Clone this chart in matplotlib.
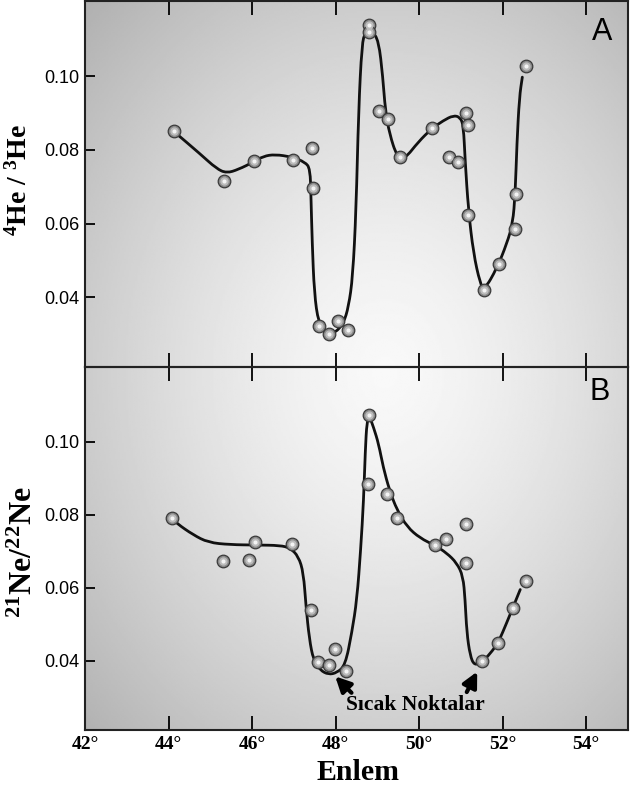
import matplotlib
matplotlib.use("Agg")
import matplotlib.pyplot as plt
import numpy as np
from matplotlib.path import Path
from matplotlib.patches import PathPatch

plt.rcParams["mathtext.fontset"] = "custom"
plt.rcParams["mathtext.rm"] = "Liberation Serif:bold"
plt.rcParams["mathtext.it"] = "Liberation Serif:bold"
plt.rcParams["mathtext.bf"] = "Liberation Serif:bold"

SERIF = "Liberation Serif"
SANS = "Liberation Sans"

# panel A: 4He/3He measurements
he_lat = [44.12, 45.33, 46.04, 46.97, 47.44, 47.47, 47.61, 47.85, 48.05, 48.29,
          48.80, 48.79, 49.05, 49.26, 49.53, 50.30, 50.72, 50.93, 51.13, 51.17,
          51.17, 51.56, 51.91, 52.30, 52.31, 52.56]
he_ratio = [0.0851, 0.0715, 0.0769, 0.0772, 0.0805, 0.0697, 0.0321, 0.0300, 0.0334, 0.0310,
            0.1141, 0.1120, 0.0906, 0.0883, 0.0781, 0.0860, 0.0781, 0.0767, 0.0900, 0.0869,
            0.0623, 0.0419, 0.0489, 0.0585, 0.0679, 0.1027]

# panel A: hand-drawn trend line
he_curve_lat = [44.12, 44.75, 45.15, 45.39, 45.67, 46.03, 46.27, 46.55, 46.95, 47.27,
                47.39, 47.41, 47.44, 47.49, 47.59, 47.79, 47.99, 48.19, 48.31, 48.41,
                48.49, 48.55, 48.63, 48.71, 48.87, 49.03, 49.13, 49.19, 49.29, 49.47,
                49.66, 49.98, 50.30, 50.58, 50.82, 50.98, 51.06, 51.10, 51.18, 51.30,
                51.46, 51.56, 51.86, 52.10, 52.24, 52.30, 52.34, 52.40, 52.47]
he_curve = [0.0851, 0.0790, 0.0749, 0.0737, 0.0747, 0.0767, 0.0783, 0.0788, 0.0781, 0.0767,
            0.0749, 0.0672, 0.0546, 0.0410, 0.0329, 0.0297, 0.0303, 0.0329, 0.0374, 0.0455,
            0.0636, 0.0908, 0.1089, 0.1120, 0.1123, 0.1098, 0.0998, 0.0908, 0.0844, 0.0781,
            0.0776, 0.0822, 0.0858, 0.0880, 0.0894, 0.0889, 0.0867, 0.0772, 0.0636, 0.0519,
            0.0437, 0.0419, 0.0478, 0.0546, 0.0600, 0.0681, 0.0817, 0.0944, 0.0998]

# panel B: 21Ne/22Ne measurements
ne_lat = [44.08, 45.31, 45.93, 46.06, 46.95, 47.42, 47.57, 47.83, 47.99, 48.25,
          48.81, 48.77, 49.23, 49.47, 50.37, 50.64, 51.13, 51.13, 51.51, 51.89,
          52.25, 52.56]
ne_ratio = [0.0791, 0.0674, 0.0676, 0.0725, 0.0719, 0.0540, 0.0397, 0.0387, 0.0433, 0.0372,
            0.1073, 0.0883, 0.0856, 0.0790, 0.0716, 0.0733, 0.0775, 0.0667, 0.0400, 0.0448,
            0.0544, 0.0618]

# panel B: trend line
ne_curve_lat = [44.08, 44.20, 44.59, 44.95, 45.47, 46.11, 46.67, 46.91, 47.11, 47.23,
                47.29, 47.37, 47.47, 47.63, 47.83, 48.03, 48.23, 48.39, 48.51, 48.60,
                48.67, 48.71, 48.75, 48.81, 48.91, 49.03, 49.14, 49.29, 49.47, 49.71,
                50.02, 50.38, 50.66, 50.90, 51.05, 51.10, 51.14, 51.22, 51.32, 51.50,
                51.70, 51.90, 52.10, 52.26, 52.42]
ne_curve = [0.0791, 0.0776, 0.0745, 0.0724, 0.0718, 0.0717, 0.0716, 0.0709, 0.0686, 0.0641,
            0.0550, 0.0460, 0.0401, 0.0374, 0.0362, 0.0367, 0.0387, 0.0478, 0.0568, 0.0704,
            0.0840, 0.0975, 0.1057, 0.1070, 0.1039, 0.0994, 0.0930, 0.0867, 0.0813, 0.0767,
            0.0736, 0.0716, 0.0695, 0.0668, 0.0632, 0.0568, 0.0478, 0.0414, 0.0387, 0.0396,
            0.0419, 0.0451, 0.0505, 0.0550, 0.0595]

x_ticks = [42, 44, 46, 48, 50, 52, 54]
y_ticks = [0.04, 0.06, 0.08, 0.10]


def smooth_line(ax, xs, ys):
    # quadratic bezier path: read points act as control points, segments join at midpoints
    pts = np.column_stack([xs, ys])
    verts = [pts[0], (pts[0] + pts[1]) / 2]
    codes = [Path.MOVETO, Path.LINETO]
    for i in range(1, len(pts) - 1):
        verts += [pts[i], (pts[i] + pts[i + 1]) / 2]
        codes += [Path.CURVE3, Path.CURVE3]
    verts.append(pts[-1])
    codes.append(Path.LINETO)
    ax.add_patch(PathPatch(Path(verts, codes), fill=False, edgecolor="#111111",
                           lw=2.0, capstyle="round", joinstyle="round", zorder=3))


def draw_balls(ax, x, y):
    ax.scatter(x, y, s=82, color="#8a8a8a", edgecolors="#3a3a3a", linewidths=0.9, zorder=4)
    ax.scatter(x, y, s=36, color="#bcbcbc", linewidths=0, zorder=5)
    ax.scatter(x, y, s=9, color="#f4f4f4", linewidths=0, zorder=6)


def style_axis(ax):
    ax.set_xlim(42, 55)
    ax.set_ylim(0.021, 0.1205)
    ax.set_facecolor("none")
    ax.set_xticks(x_ticks)
    ax.set_yticks(y_ticks)
    ax.set_yticklabels([f"{v:.2f}" for v in y_ticks], family=SANS, fontsize=13)
    ax.tick_params(axis="x", direction="in", length=10, width=1.3, top=True, bottom=True, pad=4)
    ax.tick_params(axis="y", direction="in", length=7, width=1.3, pad=4)
    for sp in ax.spines.values():
        sp.set_linewidth(1.5)
        sp.set_color("#222222")


fig = plt.figure(figsize=(6.3, 7.87), dpi=100)
left, right = 85 / 630, 628 / 630
top_a, mid, bot_b = 1 - 1 / 787, 1 - 367 / 787, 1 - 730 / 787

# radial grey background behind both panels
bg = fig.add_axes([left, bot_b, right - left, top_a - bot_b], zorder=0)
gx, gy = np.meshgrid(np.linspace(0, 543, 300), np.linspace(0, 729, 400))
dist = np.sqrt(((gx - 300) / 420) ** 2 + ((gy - 372) / 520) ** 2)
shade = 0.975 - 0.28 * np.clip(dist, 0, 1.2) ** 1.4
bg.imshow(shade, cmap="gray", vmin=0, vmax=1, extent=[0, 1, 0, 1], aspect="auto", origin="upper")
bg.axis("off")

ax_a = fig.add_axes([left, mid, right - left, top_a - mid], zorder=2)
ax_b = fig.add_axes([left, bot_b, right - left, mid - bot_b], zorder=2)

smooth_line(ax_a, he_curve_lat, he_curve)
draw_balls(ax_a, he_lat, he_ratio)
smooth_line(ax_b, ne_curve_lat, ne_curve)
draw_balls(ax_b, ne_lat, ne_ratio)

for ax in (ax_a, ax_b):
    style_axis(ax)
ax_a.set_xticklabels([])
ax_b.set_xticklabels([f"{t}°" for t in x_ticks], family=SERIF, fontweight="bold", fontsize=14)

ax_a.text(0.952, 0.916, "A", transform=ax_a.transAxes, family=SANS, fontsize=22,
          ha="center", va="center")
ax_b.text(0.948, 0.931, "B", transform=ax_b.transAxes, family=SANS, fontsize=22,
          ha="center", va="center")

fig.text(19 / 630, 1 - 180 / 787, r"$^{4}$He / $^{3}$He", family=SERIF, fontweight="bold",
         fontsize=20, rotation=90, ha="center", va="center")
fig.text(24 / 630, 1 - 552 / 787, r"$^{21}$Ne/$^{22}$Ne", family=SERIF, fontweight="bold",
         fontsize=23, rotation=90, ha="center", va="center")
fig.text(358 / 630, 1 - 772 / 787, "Enlem", family=SERIF, fontweight="bold", fontsize=21.5,
         ha="center", va="center")

ax_b.text(49.90, 0.0278, "Sıcak Noktalar", family=SERIF, fontweight="bold", fontsize=15.5,
          ha="center", va="center")
arrow = dict(arrowstyle="-|>,head_length=0.9,head_width=0.45", color="black", lw=3.0,
             shrinkA=0, shrinkB=0)
ax_b.annotate("", xy=(47.99, 0.0357), xytext=(48.38, 0.0312), arrowprops=arrow)
ax_b.annotate("", xy=(51.39, 0.0370), xytext=(51.14, 0.0314), arrowprops=arrow)

fig.savefig("out.png", dpi=100)
